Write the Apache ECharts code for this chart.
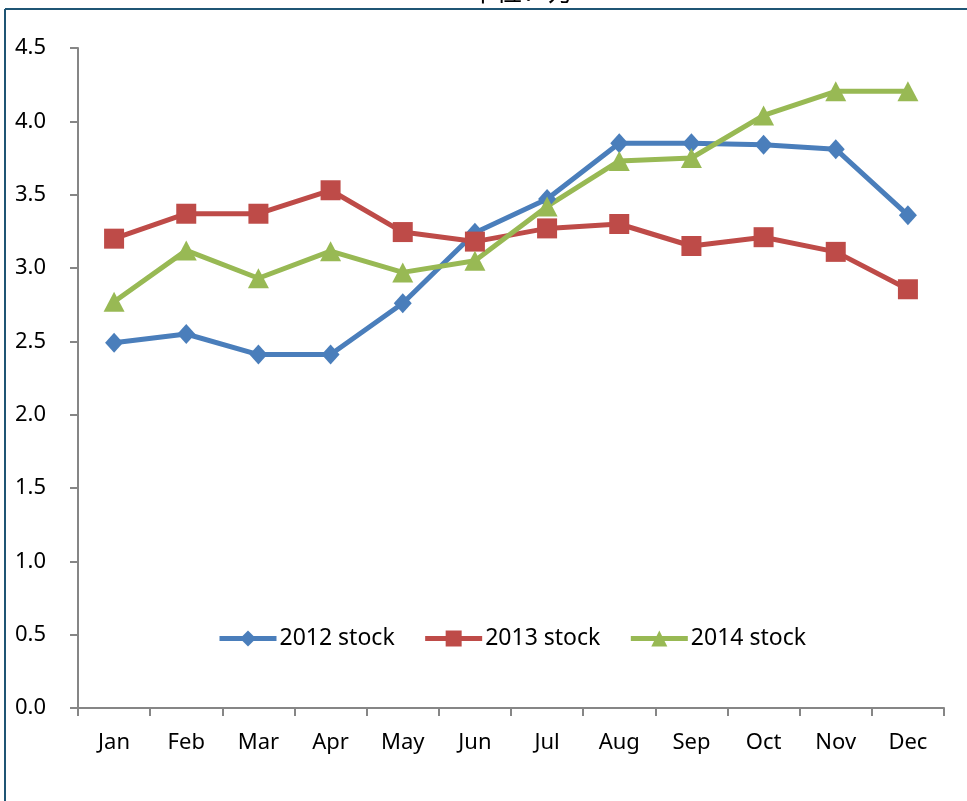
<!DOCTYPE html>
<html>
<head>
<meta charset="utf-8">
<script src="https://cdn.jsdelivr.net/npm/echarts@6/dist/echarts.min.js"></script>
<style>
html,body{margin:0;padding:0;background:#fff;}
#chart{width:967px;height:801px;}
</style>
</head>
<body>
<div id="chart"></div>
<script>
var months = ['Jan','Feb','Mar','Apr','May','Jun','Jul','Aug','Sep','Oct','Nov','Dec'];
var seriesNames = ['2012 stock','2013 stock','2014 stock'];
var stock2012 = [2.49, 2.55, 2.41, 2.41, 2.76, 3.24, 3.47, 3.85, 3.85, 3.84, 3.81, 3.36];
var stock2013 = [3.20, 3.37, 3.37, 3.53, 3.245, 3.18, 3.27, 3.30, 3.15, 3.21, 3.11, 2.855];
var stock2014 = [2.77, 3.12, 2.93, 3.115, 2.97, 3.05, 3.42, 3.73, 3.75, 4.04, 4.205, 4.205];
var titleText = '单位：万';

var FONT = '"Noto Sans", "Noto Sans CJK SC", sans-serif';
var chart = echarts.init(document.getElementById('chart'), null, {renderer: 'canvas'});

function mkSeries(name, data, color, symbol, size) {
  return {
    name: name,
    type: 'line',
    data: data,
    symbol: symbol,
    symbolSize: size,
    showAllSymbol: true,
    lineStyle: {color: color, width: 5},
    itemStyle: {color: color},
    emphasis: {disabled: true},
    animation: false
  };
}

var option = {
  backgroundColor: '#ffffff',
  animation: false,
  textStyle: {fontFamily: FONT},
  graphic: [
    {type: 'text', left: 470, top: -22, z: 1,
     style: {text: titleText, font: '26px "Noto Sans CJK SC", sans-serif', fill: '#000'}},
    {type: 'rect', shape: {x: 0, y: 8, width: 967, height: 3}, style: {fill: '#ffffff'}, z: 2, silent: true},
    {type: 'line', shape: {x1: 5, y1: 9, x2: 967, y2: 9}, style: {stroke: '#1f5574', lineWidth: 2}, z: 3, silent: true},
    {type: 'line', shape: {x1: 5, y1: 9, x2: 5, y2: 801}, style: {stroke: '#1f5574', lineWidth: 2}, z: 3, silent: true}
  ],
  grid: {left: 78, right: 23, top: 48, bottom: 93, containLabel: false},
  legend: {
    data: seriesNames,
    left: 217,
    top: 627,
    padding: 0,
    itemWidth: 57,
    itemHeight: 20,
    itemGap: 28,
    lineStyle: {width: 5},
    textStyle: {fontFamily: FONT, fontSize: 23, color: '#000', padding: [0, 0, 0, -2]},
    selectedMode: false
  },
  xAxis: {
    type: 'category',
    data: months,
    boundaryGap: true,
    axisLine: {show: true, lineStyle: {color: '#868686', width: 2}},
    axisTick: {show: true, interval: 0, length: 8, lineStyle: {color: '#868686', width: 2}},
    axisLabel: {color: '#000', fontSize: 22, fontFamily: FONT, margin: 24, interval: 0},
    splitLine: {show: false}
  },
  yAxis: {
    type: 'value',
    min: 0,
    max: 4.5,
    interval: 0.5,
    axisLine: {show: true, lineStyle: {color: '#868686', width: 2}},
    axisTick: {show: true, length: 8, lineStyle: {color: '#868686', width: 2}},
    axisLabel: {color: '#000', fontSize: 22, fontFamily: FONT, margin: 32,
      formatter: function (v) { return v.toFixed(1); }},
    splitLine: {show: false}
  },
  series: [
    mkSeries(seriesNames[0], stock2012, '#4a7ebb', 'diamond', [18, 20]),
    mkSeries(seriesNames[1], stock2013, '#be4b48', 'rect', [20, 20]),
    mkSeries(seriesNames[2], stock2014, '#98b954', 'triangle', [21, 20])
  ]
};
chart.setOption(option);
</script>
</body>
</html>
